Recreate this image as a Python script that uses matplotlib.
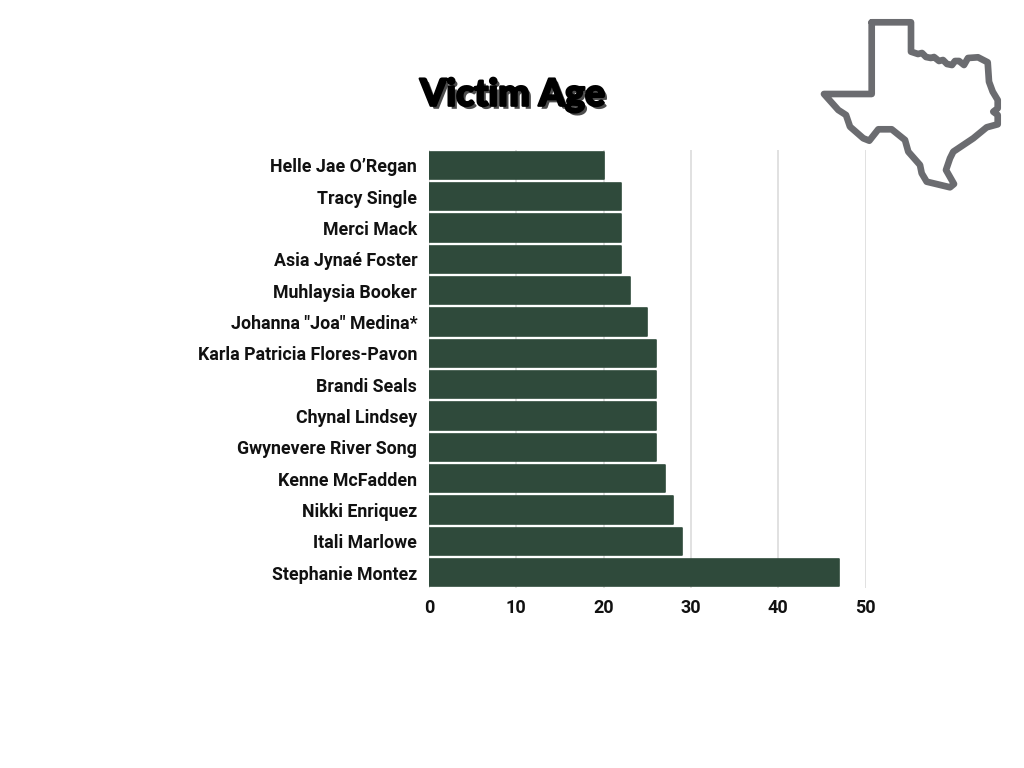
import matplotlib
matplotlib.use("Agg")
from matplotlib import pyplot as plt
from matplotlib import patheffects as pe

plt.rcParams["font.family"] = ["Roboto", "DejaVu Sans"]

names = ["Helle Jae O’Regan", "Tracy Single", "Merci Mack", "Asia Jynaé Foster",
         "Muhlaysia Booker", 'Johanna "Joa" Medina*', "Karla Patricia Flores-Pavon",
         "Brandi Seals", "Chynal Lindsey", "Gwynevere River Song", "Kenne McFadden",
         "Nikki Enriquez", "Itali Marlowe", "Stephanie Montez"]
ages = [20, 22, 22, 22, 23, 25, 26, 26, 26, 26, 27, 28, 29, 47]
xticks = [0, 10, 20, 30, 40, 50]

# texas icon, in pixels from the top left of the image
texas_x = [871.7, 911, 911, 918, 922, 926, 931, 934, 939, 943, 947, 952, 955, 959, 964, 968, 978, 987.7,
           989, 992.7, 997.7, 997.7, 993.3, 997.7, 997.7, 986.7, 973.3, 953.3, 950, 946,
           954, 950, 926.7, 921.7, 920, 908.3, 905, 891.7, 878.3, 869.3, 863.3, 850, 846,
           838.3, 824, 871.7, 871.7]
texas_y = [22.3, 22.3, 51.7, 54, 53, 57, 58, 57, 61, 60, 64, 65, 61, 61, 65, 58, 57.3, 62.3,
           81.7, 91.7, 100, 108.3, 111.7, 115, 124.3, 127.3, 138.3, 151.7, 158.3, 170,
           184, 187.3, 181.7, 173.3, 165, 151.7, 140, 129.3, 129.3, 140.7, 138.3, 126.7, 115,
           110, 94, 94, 22.3]

W, H = 1024, 768
fig = plt.figure(figsize=(W / 100, H / 100), dpi=100, facecolor="white")

left, right, top, bottom = 429, 865.5, 149.6, 588.2
ax = fig.add_axes([left / W, 1 - bottom / H, (right - left) / W, (bottom - top) / H])
pos = list(range(len(names)))
ax.barh(pos, ages, height=0.87, color="#2f4a3b", edgecolor="#2f4a3b", linewidth=1.2,
        joinstyle="round", zorder=3)
ax.set_xlim(0, 50)
ax.set_ylim(len(names) - 0.5, -0.5)
ax.set_xticks(xticks)
ax.set_yticks(pos)
ax.set_yticklabels(names, fontsize=12.8, fontweight="bold", color="#111111")
ax.set_xticklabels(xticks, fontsize=13, fontweight="bold", color="#111111")
ax.tick_params(axis="both", length=0)
ax.tick_params(axis="y", pad=8.5)
ax.tick_params(axis="x", pad=8)
ax.grid(True, axis="x", color="#dcdcdc", linewidth=1.2, zorder=0)
ax.set_axisbelow(True)
for s in ax.spines.values():
    s.set_visible(False)

fig.text(512.5 / W, 1 - 95 / H, "Victim Age", ha="center", va="center", fontsize=27,
         fontfamily=["Lato", "DejaVu Sans"], fontweight="black", color="black",
         path_effects=[pe.SimplePatchShadow(offset=(2.2, -2.2), shadow_rgbFace="#4d4d4d", alpha=1),
                       pe.withStroke(linewidth=1.6, foreground="black")])

icon = fig.add_axes([0, 0, 1, 1], facecolor="none")
icon.set_xlim(0, W)
icon.set_ylim(H, 0)
icon.axis("off")
icon.plot(texas_x, texas_y, color="#6b6c70", linewidth=4.8, solid_joinstyle="round", solid_capstyle="round")

fig.savefig("out.png", dpi=100)
